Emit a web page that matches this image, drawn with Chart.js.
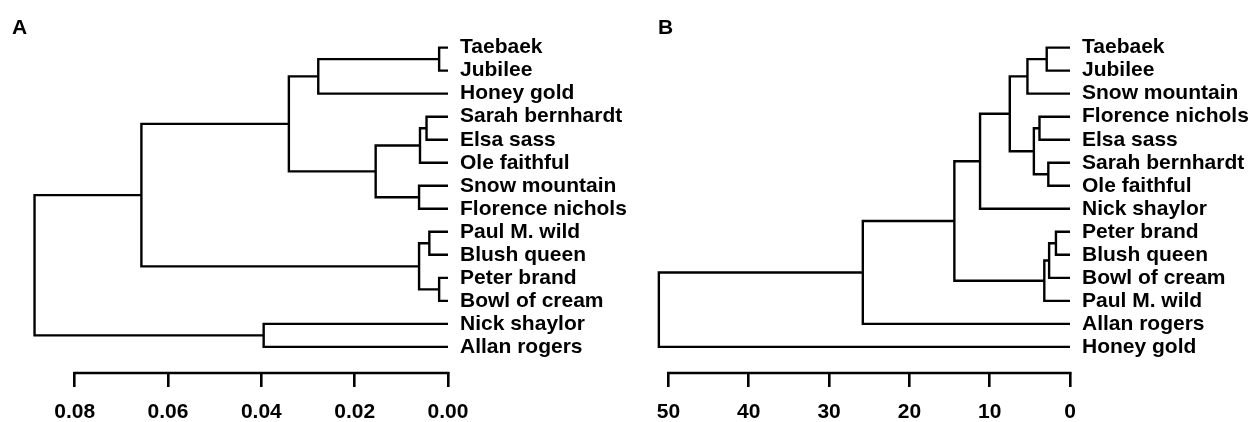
<!DOCTYPE html>
<html>
<head>
<meta charset="utf-8">
<script src="https://cdn.jsdelivr.net/npm/chart.js@4.4.1/dist/chart.umd.min.js"></script>
<style>
body{margin:0;background:#fff;}
#wrap{position:relative;width:1252px;height:422px;}
canvas{position:absolute;top:0;}
#chartA{left:0;}
#chartB{left:626px;}
</style>
</head>
<body>
<div id="wrap">
<canvas id="chartA" width="626" height="422"></canvas>
<canvas id="chartB" width="626" height="422"></canvas>
</div>
<script>
// panel A: leaves top to bottom, merges (negative = leaf, positive = earlier merge), merge heights
const leavesA=["Taebaek","Jubilee","Honey gold","Sarah bernhardt","Elsa sass","Ole faithful","Snow mountain","Florence nichols","Paul M. wild","Blush queen","Peter brand","Bowl of cream","Nick shaylor","Allan rogers"];
const mergesA=[[-1,-2],[-11,-12],[-9,-10],[-4,-5],[4,-6],[-7,-8],[3,2],[5,6],[1,-3],[9,8],[-13,-14],[10,7],[12,11]];
const heightsA=[0.0019,0.0019,0.0040,0.0046,0.0060,0.0062,0.0062,0.0155,0.0278,0.0341,0.0395,0.0657,0.0886];
const ticksA=[0,0.02,0.04,0.06,0.08];

// panel B
const leavesB=["Taebaek","Jubilee","Snow mountain","Florence nichols","Elsa sass","Sarah bernhardt","Ole faithful","Nick shaylor","Peter brand","Blush queen","Bowl of cream","Paul M. wild","Allan rogers","Honey gold"];
const mergesB=[[-9,-10],[1,-11],[-6,-7],[-1,-2],[2,-12],[-4,-5],[6,3],[4,-3],[8,7],[9,-8],[10,5],[11,-13],[12,-14]];
const heightsB=[1.75,2.6,2.7,2.9,3.2,3.8,4.5,5.3,7.5,11.2,14.4,25.8,51.2];
const ticksB=[0,10,20,30,40,50];

const FONT="'Liberation Sans', Arial, sans-serif";

function treeSets(merges,heights){
let nodeY=[];
let sets=[];
merges.forEach((m,i)=>{
let ys=m.map(c=>c<0 ? -c-1 : nodeY[c-1]);
let hs=m.map(c=>c<0 ? 0 : heights[c-1]);
nodeY[i]=(ys[0]+ys[1])/2;
sets.push({
data:[{x:hs[0],y:ys[0]},{x:heights[i],y:ys[0]},{x:heights[i],y:ys[1]},{x:hs[1],y:ys[1]}],
borderColor:"#000",
borderWidth:2.4,
pointRadius:0,
showLine:true,
fill:false,
tension:0,
borderJoinStyle:"miter"
});
});
return sets;
}

const axisLine={
id:"axisLine",
afterDraw(chart,args,opts){
let ctx=chart.ctx;
let xs=chart.scales.x;
ctx.save();
ctx.strokeStyle="#000";
ctx.lineWidth=2.6;
ctx.lineCap="square";
ctx.beginPath();
ctx.moveTo(xs.getPixelForValue(Math.min(...opts.ticks)),xs.top+1);
ctx.lineTo(xs.getPixelForValue(Math.max(...opts.ticks)),xs.top+1);
ctx.stroke();
ctx.fillStyle="#000";
ctx.font="bold 21px "+FONT;
ctx.textBaseline="alphabetic";
ctx.fillText(opts.letter,opts.letterX,34);
ctx.restore();
}
};

function makeChart(id,leaves,merges,heights,ticks,xmax,padLeft,axisW,letter,letterX,fmt){
return new Chart(document.getElementById(id),{
type:"scatter",
data:{datasets:treeSets(merges,heights)},
plugins:[axisLine],
options:{
responsive:false,
devicePixelRatio:1,
animation:false,
layout:{padding:{left:padLeft,top:22.3,right:0,bottom:0}},
plugins:{
legend:{display:false},
tooltip:{enabled:false},
axisLine:{ticks:ticks,letter:letter,letterX:letterX}
},
scales:{
x:{
type:"linear",
position:"bottom",
reverse:true,
min:0,
max:xmax,
afterFit:s=>{s.height=50;},
afterBuildTicks:s=>{s.ticks=ticks.map(v=>({value:v}));},
ticks:{callback:v=>fmt(v),color:"#000",font:{family:FONT,size:21,weight:"bold"},padding:13,maxRotation:0,autoSkip:false},
grid:{display:true,drawOnChartArea:false,drawTicks:true,tickLength:15,color:"#000",lineWidth:2.6},
border:{display:false}
},
y:{
type:"linear",
position:"right",
reverse:true,
min:-1,
max:14.09,
afterFit:s=>{s.width=axisW;},
afterBuildTicks:s=>{s.ticks=leaves.map((n,i)=>({value:i}));},
ticks:{callback:v=>leaves[v],color:"#000",font:{family:FONT,size:21,weight:"bold"},padding:12,autoSkip:false},
grid:{display:false,drawTicks:false},
border:{display:false}
}
}
}
});
}

makeChart("chartA",leavesA,mergesA,heightsA,ticksA,0.09,28,178,"A",12,v=>v.toFixed(2));
makeChart("chartB",leavesB,mergesB,heightsB,ticksB,53,18.4,182,"B",32,v=>String(v));
</script>
</body>
</html>
